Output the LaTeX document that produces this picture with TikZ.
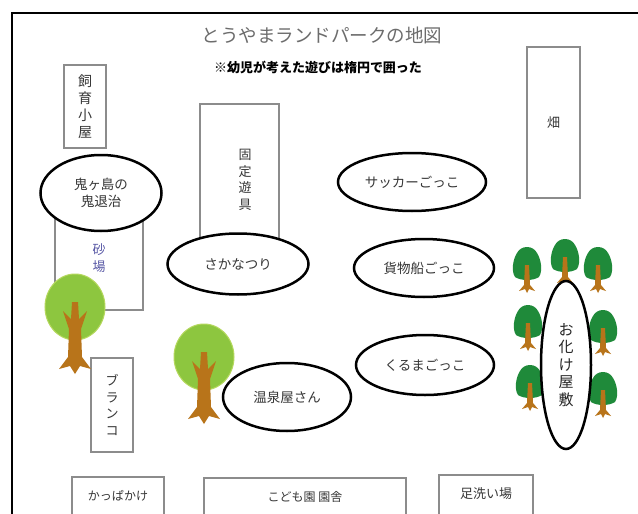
\documentclass[tikz,border=0pt]{standalone}
\usepackage{fontspec}
\setmainfont{Noto Sans CJK JP}
\usetikzlibrary{shapes.geometric}

\definecolor{boxgray}{HTML}{8C8C8C}
\definecolor{inkgray}{HTML}{363636}
\definecolor{leafgreen}{HTML}{8DC63F}
\definecolor{leafedge}{HTML}{B5D85E}
\definecolor{pinegreen}{HTML}{1F8A3A}
\definecolor{barkbrown}{HTML}{B8741A}

\tikzset{
  place/.style={rectangle, draw=boxgray, line width=1.1pt, fill=white, inner sep=0pt},
  play/.style={ellipse, draw=black, line width=2.5pt, fill=white, inner sep=0pt,
    text=inkgray, align=center, font=\fontsize{13.5}{16.5}\selectfont},
  tate/.style={align=center, text=inkgray, font=\fontsize{13}{16.5}\selectfont},
  leaftree/.pic={
    \fill[leafgreen, draw=leafedge, line width=1pt] (0,0) ellipse [x radius=30, y radius=33];
    \fill[barkbrown] (-3,-5) -- (3,-5) -- (4,12) -- (12,4) -- (6,22) -- (7,50) -- (16,62)
      -- (5,59) -- (0,67) -- (-5,59) -- (-16,62) -- (-7,50) -- (-6,22) -- (-12,4)
      -- (-4,12) -- cycle;
  },
  pinetree/.pic={
    % bullet shaped crown
    \fill[pinegreen] (-12,10) .. controls (-16,4) and (-14,-8) .. (-10,-14)
      .. controls (-6,-22) and (6,-22) .. (10,-14)
      .. controls (14,-8) and (16,4) .. (12,10)
      .. controls (6,14) and (-6,14) .. (-12,10) -- cycle;
    \fill[barkbrown] (-2,-2) -- (2,-2) -- (3,18) -- (8,24) -- (2,22) -- (0,26)
      -- (-2,22) -- (-8,24) -- (-3,18) -- cycle;
  }
}

\begin{document}
\begin{tikzpicture}[x=1pt, y=-1pt]
\clip (0,0) rectangle (638,514);
\fill[white] (0,0) rectangle (638,514);
\draw[line width=2pt] (12,514) -- (12,13) -- (638,13);

% title
\node[text=gray!85!black, font=\fontsize{18.5}{20}\selectfont] (title) at (322,35) {とうやまランドパークの地図};
\node[font=\bfseries\fontsize{13}{15}\selectfont] (note) at (318,67) {※幼児が考えた遊びは楕円で囲った};

% places
\node[place, minimum width=42, minimum height=83] (hut) at (85,106.5) {};
\node[tate, font=\fontsize{14}{16.8}\selectfont] at (hut.center) {飼\\育\\小\\屋};
\node[place, minimum width=88, minimum height=110] (sand) at (99,255) {};
\node[tate, text=blue!30!gray] at (99,258) {砂\\場};
\node[place, minimum width=79, minimum height=152] (playset) at (239.5,180) {};
\node[tate] at (245,180) {固\\定\\遊\\具};
\node[place, minimum width=42, minimum height=94] (swing) at (112,405) {};
\node[tate] at (swing.center) {ブ\\ラ\\ン\\コ};
\node[place, minimum width=53, minimum height=151] (field) at (553.5,122.5) {};
\node[tate] at (field.center) {畑};
\node[place, minimum width=92, minimum height=60] (kappa) at (118,507) {};
\node[text=inkgray, font=\fontsize{12}{14}\selectfont] at (118,496) {かっぱかけ};
\node[place, minimum width=202, minimum height=60] (school) at (305,508) {};
\node[text=inkgray, font=\fontsize{12}{14}\selectfont] at (305,497) {こども園\ 園舎};
\node[place, minimum width=94, minimum height=60] (wash) at (486,505) {};
\node[text=inkgray, font=\fontsize{13}{15}\selectfont] at (486,494) {足洗い場};

% plays (ellipses)
\node[play, minimum width=121, minimum height=76] (oni) at (101,193) {鬼ヶ島の\\鬼退治};
\node[play, minimum width=141, minimum height=61] (sakana) at (238,264) {さかなつり};
\node[play, minimum width=148, minimum height=58] (soccer) at (412,182) {サッカーごっこ};
\node[play, minimum width=140, minimum height=58] (ship) at (424,268) {貨物船ごっこ};
\node[play, minimum width=138, minimum height=60] (car) at (425,365) {くるまごっこ};
\node[play, minimum width=128, minimum height=68] (onsen) at (287,397) {温泉屋さん};

% trees
\pic at (75,307) {leaftree};
\pic at (204,357) {leaftree};
\foreach \px/\py in {527/267, 565/259, 598/267, 528/325, 603/330, 530/385, 603/392}
  \pic at (\px,\py) {pinetree};

\node[play, minimum width=50, minimum height=168, font=\fontsize{15}{17.5}\selectfont, text=black!85] (ghost) at (566,365) {お\\化\\け\\屋\\敷};
\end{tikzpicture}
\end{document}
